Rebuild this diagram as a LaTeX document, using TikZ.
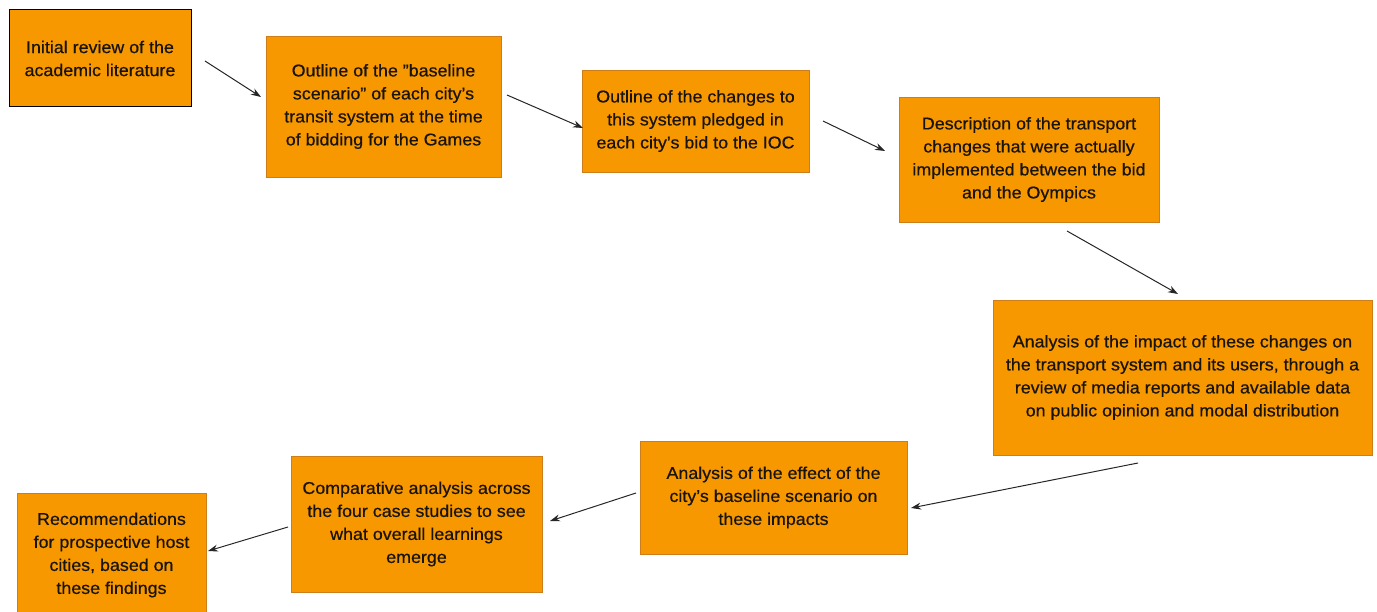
\documentclass[tikz,border=0pt]{standalone}
\usepackage{fontspec}
\setmainfont{Liberation Sans}[FakeStretch=1.05,FakeBold=0.6]
\usetikzlibrary{arrows.meta}
\definecolor{boxfill}{RGB}{247,152,0}
\definecolor{boxline}{RGB}{205,125,25}
\definecolor{txt}{RGB}{25,20,10}
\newcommand\dqm{\symbol{34}}
\newcommand\sqm{\symbol{39}}
\tikzset{
  stepbox/.style={draw=boxline, line width=0.8pt, fill=boxfill, text=txt, align=center, inner sep=0pt,
    font=\fontsize{17}{23}\selectfont},
  flow/.style={-{Stealth[length=10pt,width=7pt]}, line width=1pt, black!85}
}
\begin{document}
\begin{tikzpicture}[x=1pt,y=-1pt]
\useasboundingbox (0,0) rectangle (1377,612);
% boxes: (left,top) rectangle (right,bottom)
\path[stepbox, draw=black, line width=1pt] (9,10) rectangle (191,107);
\node[stepbox, draw=none, fill=none] (b1) at (100,58.5) {Initial review of the\\academic literature};
\path[stepbox] (266,36) rectangle (501,177);
\node[stepbox, draw=none, fill=none] (b2) at (383.5,106.5) {Outline of the \dqm baseline\\scenario\dqm{} of each city\sqm s\\transit system at the time\\of bidding for the Games};
\path[stepbox] (582,70) rectangle (809,172);
\node[stepbox, draw=none, fill=none] (b3) at (695.5,121) {Outline of the changes to\\this system pledged in\\each city\sqm s bid to the IOC};
\path[stepbox] (899,97) rectangle (1159,222);
\node[stepbox, draw=none, fill=none] (b4) at (1029,159.5) {Description of the transport\\changes that were actually\\implemented between the bid\\and the Oympics};
\path[stepbox] (993,300) rectangle (1372,455);
\node[stepbox, draw=none, fill=none] (b5) at (1182.5,377.5) {Analysis of the impact of these changes on\\the transport system and its users, through a\\review of media reports and available data\\on public opinion and modal distribution};
\path[stepbox] (640,441) rectangle (907,554);
\node[stepbox, draw=none, fill=none] (b6) at (773.5,497.5) {Analysis of the effect of the\\city\sqm s baseline scenario on\\these impacts};
\path[stepbox] (291,456) rectangle (542,592);
\node[stepbox, draw=none, fill=none] (b7) at (416.5,524) {Comparative analysis across\\the four case studies to see\\what overall learnings\\emerge};
\path[stepbox] (17,493) rectangle (206,616);
\node[stepbox, draw=none, fill=none] (b8) at (111.5,555) {Recommendations\\for prospective host\\cities, based on\\these findings};
% arrow end points
\coordinate (a1s) at (205,61);   \coordinate (a1e) at (261,97);
\coordinate (a2s) at (507,95);   \coordinate (a2e) at (583,128);
\coordinate (a3s) at (823,121);  \coordinate (a3e) at (885,151);
\coordinate (a4s) at (1067,231); \coordinate (a4e) at (1178,294);
\coordinate (a5s) at (1138,463); \coordinate (a5e) at (911,508);
\coordinate (a6s) at (636,493);  \coordinate (a6e) at (550,521);
\coordinate (a7s) at (288,527);  \coordinate (a7e) at (208,551);
\draw[flow] (a1s) -- (a1e);
\draw[flow] (a2s) -- (a2e);
\draw[flow] (a3s) -- (a3e);
\draw[flow] (a4s) -- (a4e);
\draw[flow] (a5s) -- (a5e);
\draw[flow] (a6s) -- (a6e);
\draw[flow] (a7s) -- (a7e);
\end{tikzpicture}
\end{document}
